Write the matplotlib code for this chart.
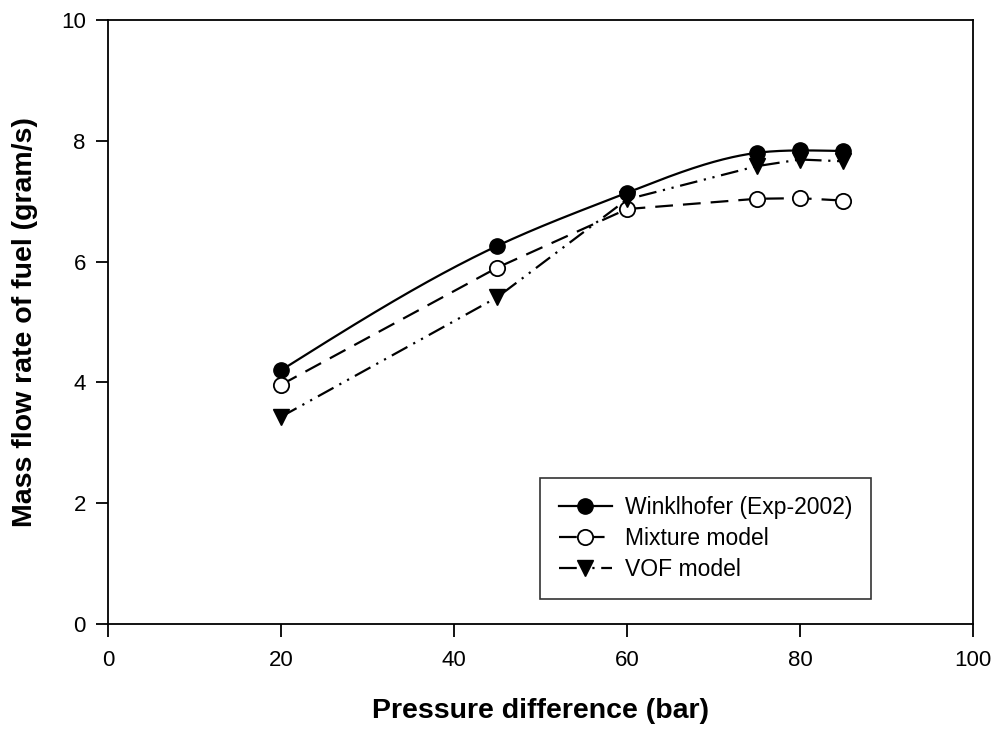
import numpy as np
from matplotlib import pyplot as plt

plt.rcParams['font.family'] = ['Liberation Sans', 'DejaVu Sans']

pressure = [20, 45, 60, 75, 80, 85]
winklhofer = [4.20, 6.26, 7.14, 7.80, 7.84, 7.83]
mixture = [3.96, 5.90, 6.87, 7.04, 7.05, 7.01]
vof = [3.43, 5.41, 7.03, 7.58, 7.69, 7.66]


def natural_spline(x, y, n=300):
    # plain natural cubic spline, only used to draw the smooth line
    x = np.asarray(x, float)
    y = np.asarray(y, float)
    h = np.diff(x)
    m = len(x)
    a = np.zeros((m, m))
    b = np.zeros(m)
    a[0, 0] = a[-1, -1] = 1
    for i in range(1, m - 1):
        a[i, i - 1] = h[i - 1]
        a[i, i] = 2 * (h[i - 1] + h[i])
        a[i, i + 1] = h[i]
        b[i] = 6 * ((y[i + 1] - y[i]) / h[i] - (y[i] - y[i - 1]) / h[i - 1])
    mm = np.linalg.solve(a, b)
    xs = np.linspace(x[0], x[-1], n)
    idx = np.clip(np.searchsorted(x, xs) - 1, 0, m - 2)
    x0, x1 = x[idx], x[idx + 1]
    hh = x1 - x0
    t0, t1 = x1 - xs, xs - x0
    ys = (mm[idx] * t0 ** 3 + mm[idx + 1] * t1 ** 3) / (6 * hh) \
        + (y[idx] / hh - mm[idx] * hh / 6) * t0 \
        + (y[idx + 1] / hh - mm[idx + 1] * hh / 6) * t1
    return xs, ys


dash_mix = (0, (8, 4.5))
dash_vof = (0, (8, 3, 1, 3, 1, 3))
ms = 11

fig = plt.figure(figsize=(9.97, 7.29), dpi=100)
ax = fig.add_axes([0.1083, 0.144, 0.8677, 0.8286])

xs, ys = natural_spline(pressure, winklhofer)
ax.plot(xs, ys, color='black', linewidth=1.6, linestyle='-')
ax.plot(pressure, winklhofer, linestyle='none', marker='o', markersize=ms,
        color='black')
ax.plot(pressure, mixture, color='black', linewidth=1.6, linestyle=dash_mix,
        marker='o', markersize=ms, markerfacecolor='white', markeredgecolor='black',
        markeredgewidth=1.3)
ax.plot(pressure, vof, color='black', linewidth=1.6, linestyle=dash_vof,
        marker='v', markersize=ms, markerfacecolor='black', markeredgecolor='black')

# legend proxies
h1, = ax.plot([], [], color='black', linewidth=1.6, marker='o', markersize=ms)
h2, = ax.plot([], [], color='black', linewidth=1.6, linestyle=dash_mix, marker='o',
              markersize=ms, markerfacecolor='white', markeredgecolor='black',
              markeredgewidth=1.3)
h3, = ax.plot([], [], color='black', linewidth=1.6, linestyle=dash_vof,
              marker='v', markersize=ms)
leg = ax.legend([h1, h2, h3], ['Winklhofer (Exp-2002)', 'Mixture model', 'VOF model'],
                loc='lower right', bbox_to_anchor=(0.882, 0.041), fontsize=16.5,
                frameon=True, fancybox=False, edgecolor='black', handlelength=2.3,
                handletextpad=0.6, borderpad=0.8, labelspacing=0.35,
                borderaxespad=0)
leg.get_frame().set_linewidth(1.2)

ax.set_xlim(0, 100)
ax.set_ylim(0, 10)
ax.set_xticks(np.arange(0, 101, 20))
ax.set_yticks(np.arange(0, 11, 2))
ax.tick_params(direction='out', length=9, width=1.3, labelsize=16)
ax.tick_params(axis='x', pad=10)
ax.tick_params(axis='y', pad=7)
for s in ax.spines.values():
    s.set_linewidth(1.3)

ax.set_xlabel('Pressure difference (bar)', fontsize=20.5, fontweight='bold', labelpad=19)
ax.set_ylabel('Mass flow rate of fuel (gram/s)', fontsize=20.5, fontweight='bold')
ax.yaxis.set_label_coords(-0.081, 0.5)

fig.savefig('out.png', dpi=100)
